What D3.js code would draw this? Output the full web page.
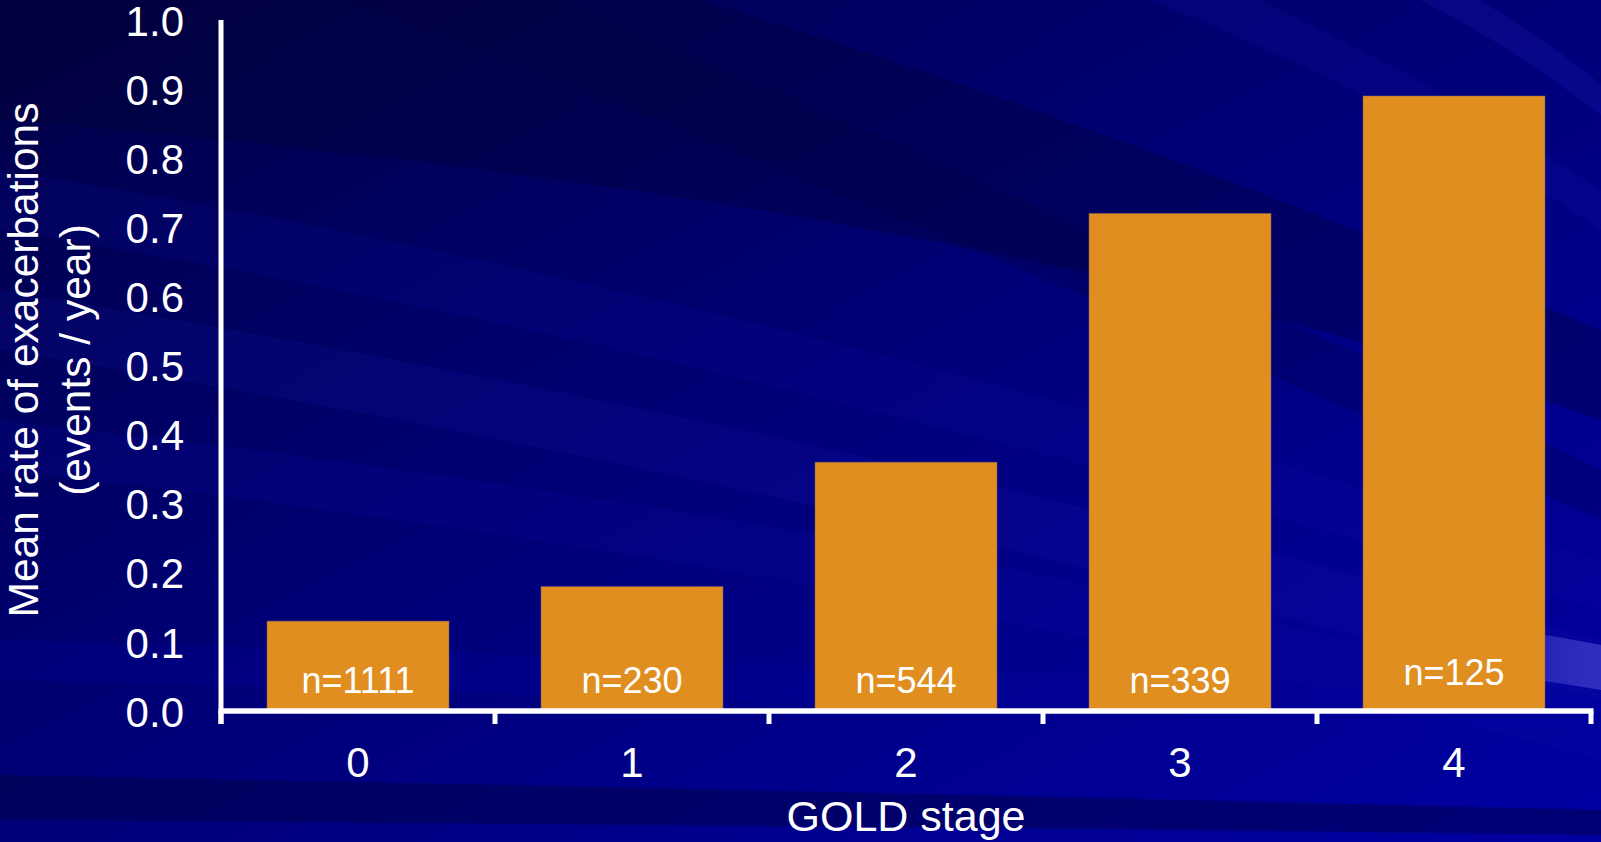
<!DOCTYPE html>
<html>
<head>
<meta charset="utf-8">
<script src="https://cdn.jsdelivr.net/npm/d3@7"></script>
<style>
  html, body { margin: 0; padding: 0; background: #000070; overflow: hidden; }
  svg { display: block; }
  text { font-family: "Liberation Sans", Arial, Helvetica, sans-serif; fill: #ffffff; }
</style>
</head>
<body>
<svg id="chart" width="1601" height="842"></svg>
<script>
// GOLD stage categories, mean exacerbation rates and group sizes
const stages = ["0", "1", "2", "3", "4"];
const meanRates = [0.13, 0.18, 0.36, 0.72, 0.89];
const groupSizes = ["n=1111", "n=230", "n=544", "n=339", "n=125"];
const yTicks = [0, 0.1, 0.2, 0.3, 0.4, 0.5, 0.6, 0.7, 0.8, 0.9, 1.0];
const yTitleLines = ["Mean rate of exacerbations", "(events / year)"];
const xTitle = "GOLD stage";

const W = 1601, H = 842;
const svg = d3.select("#chart");
const defs = svg.append("defs");

// ---- slide background: navy gradient with soft diagonal streaks ----
const bg = defs.append("linearGradient").attr("id", "bgGrad")
  .attr("x1", "0").attr("y1", "0").attr("x2", "1").attr("y2", "1");
bg.append("stop").attr("offset", "0").attr("stop-color", "#000044");
bg.append("stop").attr("offset", "0.35").attr("stop-color", "#00006a");
bg.append("stop").attr("offset", "0.7").attr("stop-color", "#00008c");
bg.append("stop").attr("offset", "1").attr("stop-color", "#0000a2");
svg.append("rect").attr("width", W).attr("height", H).attr("fill", "url(#bgGrad)");

const glow = defs.append("linearGradient").attr("id", "edgeGlow")
  .attr("x1", "0").attr("y1", "0").attr("x2", "1").attr("y2", "0");
glow.append("stop").attr("offset", "0").attr("stop-color", "#3a3ac8").attr("stop-opacity", 0);
glow.append("stop").attr("offset", "0.5").attr("stop-color", "#3a3ac8").attr("stop-opacity", 0.6);
glow.append("stop").attr("offset", "1").attr("stop-color", "#3a3ac8").attr("stop-opacity", 0.8);

const streaks = svg.append("g").attr("class", "streaks");
function band(d, color, op) {
  streaks.append("path").attr("d", d).attr("fill", color).attr("opacity", op);
}
// dark sweep across the upper half
band("M0,0 L700,0 Q1100,120 1601,330 L1601,420 Q1000,200 0,120 Z", "#000030", 0.3);
band("M350,0 L560,0 Q1000,180 1601,470 L1601,520 Q950,230 350,0 Z", "#000030", 0.2);
// lighter diagonal bands
band("M0,170 Q700,280 1601,560 L1601,610 Q650,330 0,230 Z", "#1010b0", 0.15);
band("M0,290 Q800,420 1601,640 L1601,700 Q750,470 0,350 Z", "#1a1ab8", 0.14);
band("M0,420 Q900,520 1601,700 L1601,760 Q900,570 0,470 Z", "#0a0aa8", 0.18);
band("M1150,0 L1260,0 Q1450,90 1601,190 L1601,230 Q1420,110 1150,0 Z", "#1010a8", 0.22);
band("M1420,0 L1480,0 Q1560,50 1601,85 L1601,115 Q1510,45 1420,0 Z", "#1a1ab8", 0.25);
streaks.append("path")
  .attr("d", "M1480,625 Q1540,633 1601,645 L1601,690 Q1540,680 1480,672 Z")
  .attr("fill", "url(#edgeGlow)");
band("M0,640 Q800,660 1601,700 L1601,730 Q800,700 0,680 Z", "#0000a0", 0.25);
// dark band near the bottom edge
band("M0,775 Q800,790 1601,810 L1601,835 Q800,825 0,820 Z", "#000040", 0.45);

// ---- scales ----
const x = d3.scaleBand().domain(stages).range([221, 1591])
  .paddingInner(0.336).paddingOuter(0.168);
const y = d3.scaleLinear().domain([0, 1]).range([711, 20]);

const plot = svg.append("g");

// bars
plot.selectAll("rect.bar").data(stages).join("rect")
  .attr("class", "bar")
  .attr("x", d => x(d))
  .attr("width", x.bandwidth())
  .attr("y", (d, i) => y(meanRates[i]))
  .attr("height", (d, i) => y(0) - y(meanRates[i]))
  .attr("fill", "#e18e20")
  .attr("stroke", "#8a6a6a")
  .attr("stroke-opacity", 0.5)
  .attr("stroke-width", 1);

// group size labels inside the bars
plot.selectAll("text.nlab").data(stages).join("text")
  .attr("class", "nlab")
  .attr("x", d => x(d) + x.bandwidth() / 2)
  .attr("y", (d, i) => i === stages.length - 1 ? 685 : 693)
  .attr("text-anchor", "middle")
  .attr("font-size", 36)
  .text((d, i) => groupSizes[i]);

// y axis
const yAxis = d3.axisLeft(y).tickValues(yTicks).tickSize(0).tickPadding(37)
  .tickFormat(d3.format(".1f"));
const gy = plot.append("g").attr("transform", "translate(221,0)").call(yAxis);
gy.select(".domain").remove();
gy.selectAll("text").attr("font-size", 42).attr("fill", "#ffffff")
  .attr("font-family", "Liberation Sans, Arial, sans-serif").attr("dy", "0.36em");
plot.append("line").attr("x1", 221).attr("x2", 221).attr("y1", y(1)).attr("y2", 724)
  .attr("stroke", "#ffffff").attr("stroke-width", 5);

// x axis: baseline with ticks on the category boundaries
const step = x.step();
const bounds = stages.map(d => x(d) - step * x.paddingInner() / 2)
  .concat([x.range()[1]]);
plot.append("line").attr("x1", 218.5).attr("x2", x.range()[1] + 2.5)
  .attr("y1", y(0)).attr("y2", y(0))
  .attr("stroke", "#ffffff").attr("stroke-width", 5.5);
plot.selectAll("line.xtick").data(bounds).join("line")
  .attr("class", "xtick")
  .attr("x1", d => d).attr("x2", d => d)
  .attr("y1", y(0)).attr("y2", 724)
  .attr("stroke", "#ffffff").attr("stroke-width", 5);

// category labels
plot.selectAll("text.xlab").data(stages).join("text")
  .attr("class", "xlab")
  .attr("x", d => x(d) + x.bandwidth() / 2)
  .attr("y", 777)
  .attr("text-anchor", "middle")
  .attr("font-size", 42)
  .text(d => d);

// axis titles
svg.append("text").attr("x", 906).attr("y", 831)
  .attr("text-anchor", "middle").attr("font-size", 43).text(xTitle);

const yt = svg.append("text")
  .attr("transform", "translate(0,360) rotate(-90)")
  .attr("text-anchor", "middle").attr("font-size", 42.5);
yt.selectAll("tspan").data(yTitleLines).join("tspan")
  .attr("x", 0).attr("y", (d, i) => i === 0 ? 38 : 90)
  .text(d => d);
</script>
</body>
</html>
